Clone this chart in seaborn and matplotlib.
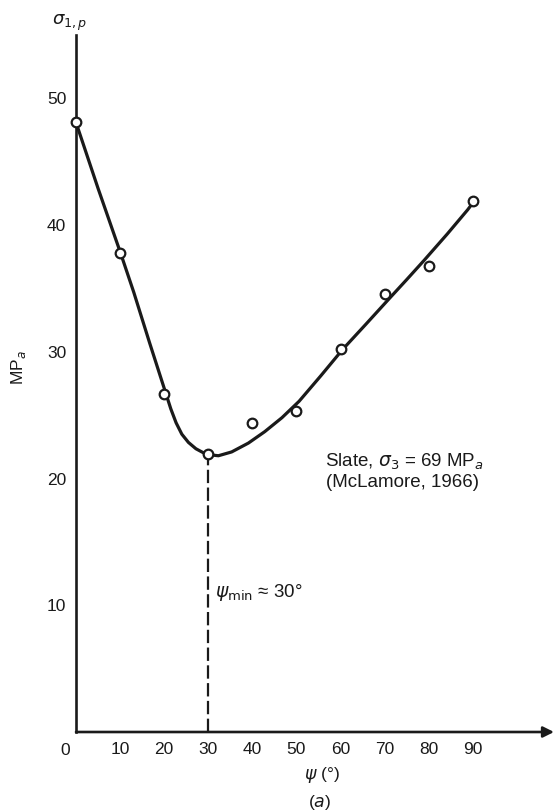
import matplotlib
matplotlib.use("Agg")
import matplotlib.pyplot as plt
import seaborn as sns
import pandas as pd

# measured data points (McLamore, 1966)
psi_points = [0, 10, 20, 30, 40, 50, 60, 70, 80, 90]
sigma_points = [48.1, 37.8, 26.7, 21.9, 24.4, 25.3, 30.2, 34.6, 36.8, 41.9]

# hand-fitted curve
psi_curve = [0, 5, 10.2, 13.1, 16.7, 20.3, 21.5, 22.7, 24.0, 25.5, 27.2, 29.6,
             32.3, 35.3, 39.1, 42.8, 46.7, 50.6, 55.5, 60.5, 65.8, 71.3, 75.0,
             78.9, 84.2, 88.8, 90]
sigma_curve = [48.1, 42.9, 37.7, 34.7, 30.7, 26.8, 25.5, 24.4, 23.5, 22.85,
               22.35, 21.9, 21.8, 22.1, 22.8, 23.7, 24.8, 26.1, 28.1, 30.2,
               32.2, 34.3, 35.7, 37.2, 39.3, 41.2, 41.75]

x_ticks = [10, 20, 30, 40, 50, 60, 70, 80, 90]
y_ticks = [10, 20, 30, 40, 50]
psi_min = 30
sigma_min = 21.9

sns.set_theme(style="white")
plt.rcParams["font.family"] = ["Liberation Sans", "DejaVu Sans"]
plt.rcParams["mathtext.fontset"] = "dejavusans"

fig = plt.figure(figsize=(5.56, 8.11), dpi=100)
ax = fig.add_axes([76 / 556, 79 / 811, 478 / 556, 697 / 811])

curve_df = pd.DataFrame({"psi": psi_curve, "sigma": sigma_curve})
pts_df = pd.DataFrame({"psi": psi_points, "sigma": sigma_points})

sns.lineplot(data=curve_df, x="psi", y="sigma", ax=ax, color="#1a1a1a",
             linewidth=2.3, sort=False, estimator=None)
sns.scatterplot(data=pts_df, x="psi", y="sigma", ax=ax, s=48, marker="o",
                facecolor="white", edgecolor="#1a1a1a", linewidth=1.6,
                zorder=5, clip_on=False)

ax.plot([psi_min, psi_min], [0, sigma_min], color="#1a1a1a", lw=1.6,
        linestyle=(0, (6, 2)), zorder=3)

ax.set_xlim(0, 108.4)
ax.set_ylim(0, 55)
ax.set_xticks(x_ticks)
ax.set_yticks(y_ticks)
ax.set_xticklabels([str(v) for v in x_ticks])
ax.set_yticklabels([str(v) for v in y_ticks])
ax.tick_params(axis="both", direction="in", length=17, width=1.5,
               color="#1a1a1a", labelcolor="#1a1a1a", labelsize=12.5)
ax.tick_params(axis="x", pad=7)
ax.tick_params(axis="y", pad=7)
ax.set_xlabel("")
ax.set_ylabel("")

for s in ["top", "right", "bottom"]:
    ax.spines[s].set_visible(False)
ax.spines["left"].set_linewidth(1.9)
ax.spines["left"].set_color("#1a1a1a")

# x axis with arrow
ax.annotate("", xy=(1.0, 0), xytext=(0, 0), xycoords="axes fraction",
            textcoords="axes fraction",
            arrowprops=dict(arrowstyle="-|>", lw=1.9, color="#1a1a1a",
                            mutation_scale=16, shrinkA=0, shrinkB=0))

# origin label
ax.annotate("0", xy=(0, 0), xytext=(-8, -8), textcoords="offset points",
            ha="center", va="top", fontsize=12.5, color="#1a1a1a")

ax.text(56.5, 21.3, "Slate, $\\sigma_3$ = 69 MP$_a$", fontsize=13.5,
        color="#1a1a1a", ha="left", va="center")
ax.text(56.7, 19.7, "(McLamore, 1966)", fontsize=13.5, color="#1a1a1a",
        ha="left", va="center")
ax.text(31.5, 11.0, "$\\psi_{\\mathrm{min}}$ ≈ 30°", fontsize=13.5,
        color="#1a1a1a", ha="left", va="center")

fig.text(70 / 556, 1 - 23 / 811, "$\\sigma_{1,p}$", fontsize=13,
         ha="center", va="center", color="#1a1a1a")
fig.text(19 / 556, 1 - 368 / 811, "MP$_a$", fontsize=12.5, rotation=90,
         ha="center", va="center", color="#1a1a1a")
fig.text(322 / 556, 1 - 775 / 811, "$\\psi$ (°)", fontsize=12.5,
         ha="center", va="center", color="#1a1a1a")
fig.text(320 / 556, 1 - 803 / 811, "($a$)", fontsize=12.5,
         ha="center", va="center", color="#1a1a1a")

fig.savefig("out.png", dpi=100)
